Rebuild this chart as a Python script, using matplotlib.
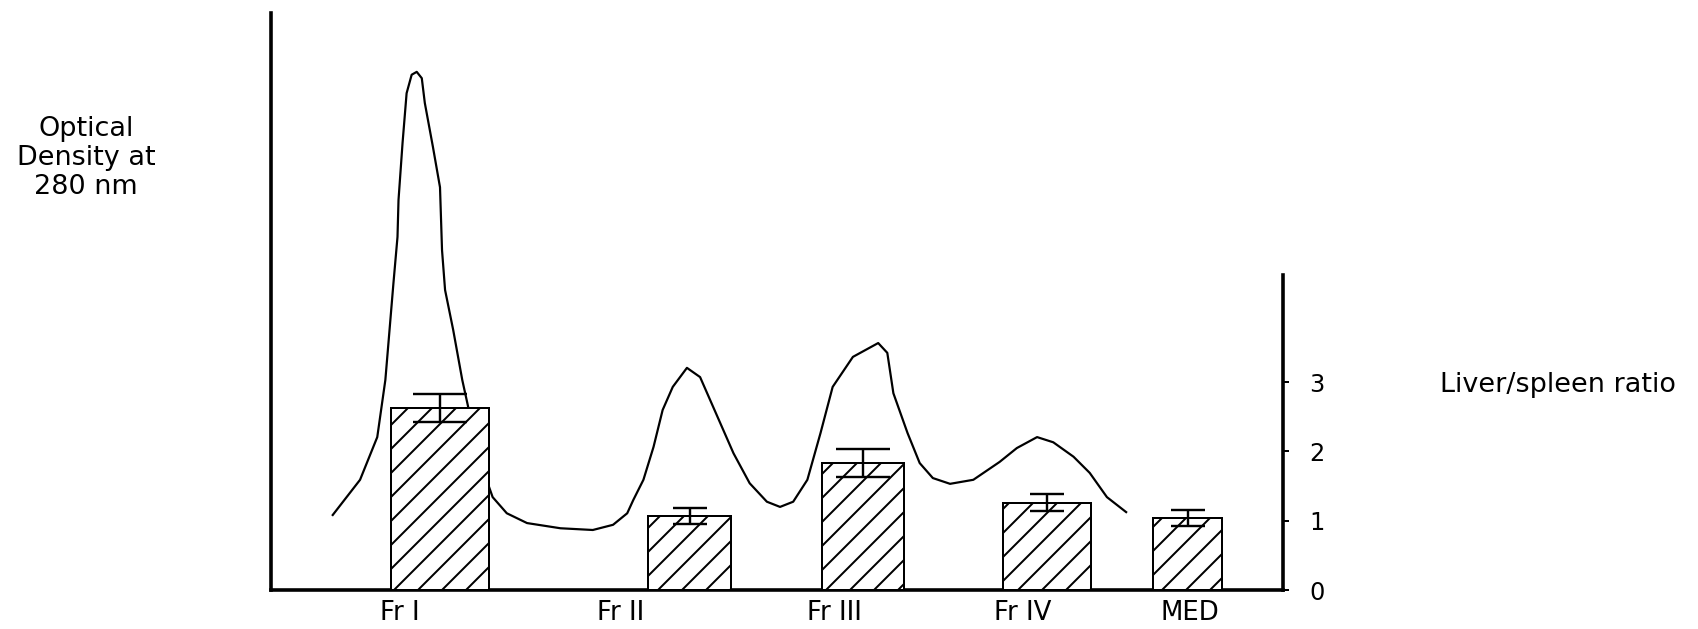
import matplotlib.pyplot as plt

plt.rcParams['font.family'] = ['DejaVu Sans']
plt.rcParams['hatch.linewidth'] = 1.0

# elution profile (optical density at 280 nm, arbitrary units)
elution_x = [6.1, 8.8, 10.5, 11.3, 12.1, 12.5, 12.6, 13.0, 13.4, 13.9, 14.4, 14.9,
             15.2, 16.0, 16.7, 16.9, 17.2, 18.0, 18.9, 19.4, 20.4, 21.3, 21.9, 23.3,
             25.3, 28.6, 31.8, 33.8, 35.2, 35.8, 36.8, 37.8, 38.7, 39.7, 41.1, 42.4,
             43.7, 45.7, 47.3, 49.0, 50.3, 51.6, 53.0, 54.3, 55.5, 57.5, 60.0, 60.9,
             61.5, 62.9, 64.1, 65.4, 67.1, 69.4, 72.0, 73.7, 75.7, 77.3, 79.3, 80.9,
             82.6, 84.5]
od_280 = [0.130, 0.191, 0.265, 0.364, 0.532, 0.612, 0.676, 0.775, 0.861, 0.893, 0.898, 0.887,
          0.844, 0.768, 0.698, 0.589, 0.520, 0.451, 0.364, 0.324, 0.243, 0.191, 0.161, 0.133,
          0.116, 0.107, 0.104, 0.113, 0.133, 0.156, 0.191, 0.248, 0.312, 0.352, 0.385, 0.369,
          0.317, 0.237, 0.185, 0.153, 0.144, 0.153, 0.191, 0.272, 0.352, 0.404, 0.428, 0.411,
          0.341, 0.272, 0.220, 0.194, 0.184, 0.191, 0.222, 0.246, 0.265, 0.256, 0.231, 0.203,
          0.161, 0.135]

# liver/spleen ratio per fraction
fractions = ['Fr I', 'Fr II', 'Fr III', 'Fr IV', 'MED']
label_pos = [12.7, 34.5, 55.7, 74.3, 90.8]
bar_pos = [16.7, 41.4, 58.5, 76.7, 90.6]
bar_width = [9.6, 8.2, 8.1, 8.7, 6.8]
ratio = [2.63, 1.07, 1.83, 1.26, 1.04]
ratio_err = [0.20, 0.12, 0.20, 0.12, 0.12]
cap = [13.5, 8.5, 13.5, 8.5, 8.5]

fig = plt.figure(figsize=(1698 / 144, 629 / 144), dpi=144)

left, right = 271 / 1698, 1283 / 1698
bottom = 1 - 590 / 629
ax = fig.add_axes([left, bottom, right - left, (590 - 13) / 629])
ax2 = fig.add_axes([left, bottom, right - left, (590 - 275) / 629])
ax2.patch.set_visible(False)

# optical density curve
ax.plot(elution_x, od_280, color='black', linewidth=1.1)
ax.set_xlim(0, 100)
ax.set_ylim(0, 1)
ax.spines['top'].set_visible(False)
ax.spines['right'].set_visible(False)
ax.spines['left'].set_linewidth(1.8)
ax.spines['bottom'].set_linewidth(1.8)
ax.set_yticks([])
ax.set_xticks(label_pos)
ax.set_xticklabels(fractions, fontsize=13)
ax.tick_params(axis='x', length=0, pad=5)

# liver/spleen bars
ax2.bar(bar_pos, ratio, width=bar_width, color='white', edgecolor='black',
        linewidth=1.0, hatch='//', zorder=2)
for x, y, e, c in zip(bar_pos, ratio, ratio_err, cap):
    ax2.errorbar(x, y, yerr=e, color='black', linewidth=1.2, capsize=c,
                 capthick=1.2, zorder=3)
ax2.set_xlim(0, 100)
ax2.set_ylim(0, (590 - 275) / 69.3)
for s in ['top', 'left', 'bottom']:
    ax2.spines[s].set_visible(False)
ax2.spines['right'].set_linewidth(1.8)
ax2.set_xticks([])
ax2.yaxis.tick_right()
ax2.set_yticks([0, 1, 2, 3])
ax2.tick_params(axis='y', length=3, width=1, pad=10, labelsize=12)

fig.text(86 / 1698, 1 - 158 / 629, 'Optical\nDensity at\n280 nm', ha='center',
         va='center', fontsize=13.5, linespacing=1.15)
fig.text(1440 / 1698, 1 - 385 / 629, 'Liver/spleen ratio', ha='left',
         va='center', fontsize=13.5)

fig.savefig('out.png', dpi=144)
